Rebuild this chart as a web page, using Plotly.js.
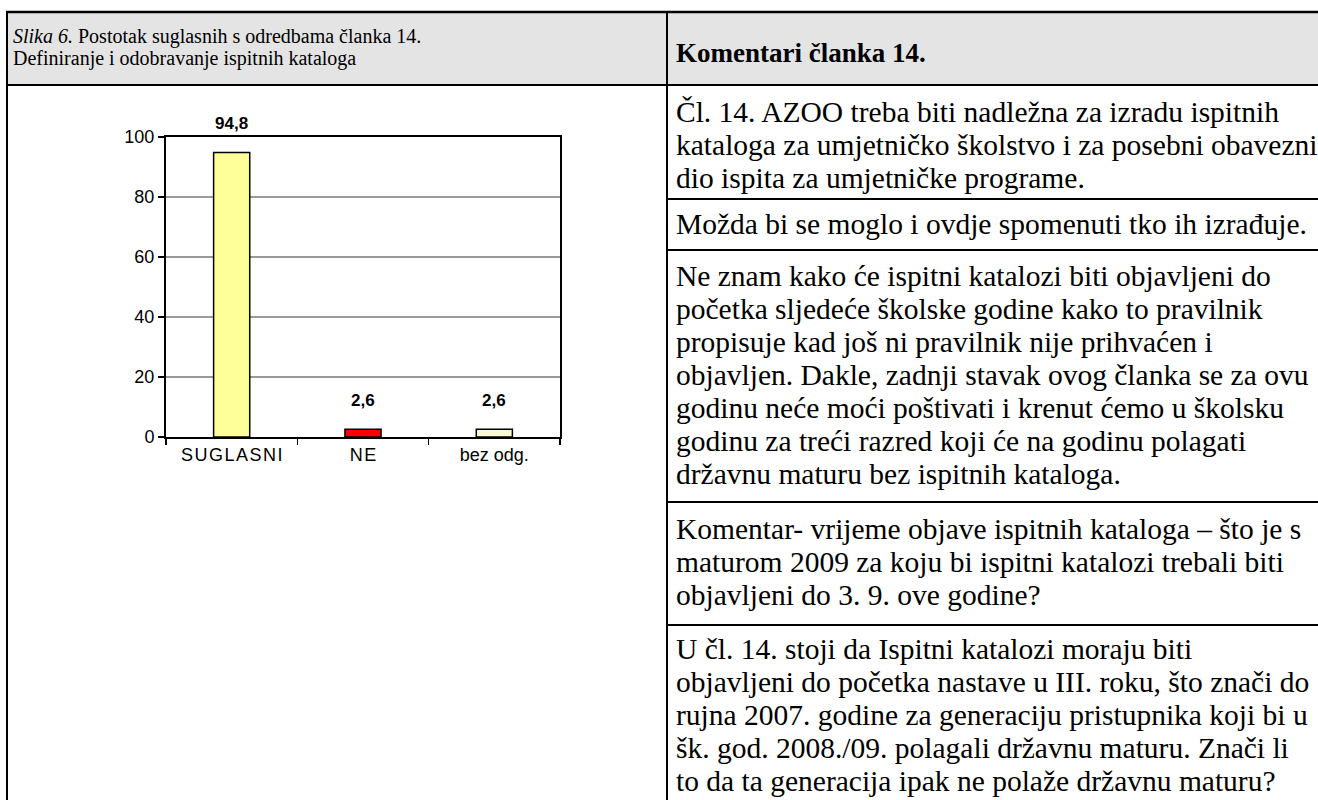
<!DOCTYPE html>
<html>
<head>
<meta charset="utf-8">
<script src="https://cdn.plot.ly/plotly-3.0.1.min.js"></script>
<style>html,body{margin:0;padding:0;background:#fff;}#chart{width:1318px;height:800px;}</style>
</head>
<body>
<div id="chart"></div>
<script>
// ---- data ----
const categories = ["S\u200AU\u200AG\u200AL\u200AA\u200AS\u200AN\u200AI", "N\u200AE", "bez odg."];
const values = [94.8, 2.6, 2.6];
const barColors = ["#FFFF99", "#FF0000", "#FAFAD2"];
const yTicks = [0, 20, 40, 60, 80, 100];

const headerLeftLine1 = "<i>Slika 6.</i> Postotak suglasnih s odredbama članka 14.";
const headerLeftLine2 = "Definiranje i odobravanje ispitnih kataloga";
const headerRight = "<b>Komentari članka 14.</b>";

const comment1 = [
  "Čl. 14. AZOO treba biti nadležna za izradu ispitnih",
  "kataloga za umjetničko školstvo i za posebni obavezni",
  "dio ispita za umjetničke programe."
];
const comment2 = [
  "Možda bi se moglo i ovdje spomenuti tko ih izrađuje."
];
const comment3 = [
  "Ne znam kako će ispitni katalozi biti objavljeni do",
  "početka sljedeće školske godine kako to pravilnik",
  "propisuje kad još ni pravilnik nije prihvaćen i",
  "objavljen. Dakle, zadnji stavak ovog članka se za ovu",
  "godinu neće moći poštivati i krenut ćemo u školsku",
  "godinu za treći razred koji će na godinu polagati",
  "državnu maturu bez ispitnih kataloga."
];
const comment4 = [
  "Komentar- vrijeme objave ispitnih kataloga – što je s",
  "maturom 2009 za koju bi ispitni katalozi trebali biti",
  "objavljeni do 3. 9. ove godine?"
];
const comment5 = [
  "U čl. 14. stoji da Ispitni katalozi moraju biti",
  "objavljeni do početka nastave u III. roku, što znači do",
  "rujna 2007. godine za generaciju pristupnika koji bi u",
  "šk. god. 2008./09. polagali državnu maturu. Znači li",
  "to da ta generacija ipak ne polaže državnu maturu?"
];

// ---- layout helpers (pixel -> paper) ----
const W = 1318, H = 800;
const px = x => x / W;
const py = y => 1 - y / H;

const SERIF = "Liberation Serif, Times New Roman, serif";
const SANS = "Liberation Sans, Arial, sans-serif";

const shapes = [];
const annotations = [];

// header fill
shapes.push({type: "rect", xref: "paper", yref: "paper", x0: px(7), x1: px(1318), y0: py(12), y1: py(85),
  fillcolor: "#E4E4E4", line: {width: 0}, layer: "below"});
function hline(y, x0, x1, w) {
  shapes.push({type: "line", xref: "paper", yref: "paper", x0: px(x0), x1: px(x1), y0: py(y), y1: py(y),
    line: {color: "#000", width: w || 2}});
}
function vline(x, y0, y1, w) {
  shapes.push({type: "line", xref: "paper", yref: "paper", x0: px(x), x1: px(x), y0: py(y0), y1: py(y1),
    line: {color: "#000", width: w || 2}});
}
hline(12, 6, 1318, 2.5);
hline(85, 6, 1318, 2);
vline(7, 11, 800, 2);
vline(667, 11, 800, 2);
hline(199, 667, 1318, 2);
hline(250, 667, 1318, 2);
hline(502, 667, 1318, 2);
hline(625, 667, 1318, 2);

function textLine(t, x, y, size, font) {
  annotations.push({xref: "paper", yref: "paper", x: px(x), y: py(y), xanchor: "left", yanchor: "middle",
    text: t, showarrow: false, align: "left", font: {family: font || SERIF, size: size, color: "#000"}});
}
textLine(headerLeftLine1, 11, 36, 20);
textLine(headerLeftLine2, 11, 59, 20);
textLine(headerRight, 674, 53, 27);

function block(lines, y0) {
  lines.forEach((l, i) => textLine(l, 674, y0 + i * 33, 29.5));
}
block(comment1, 112);
block(comment2, 224);
block(comment3, 276);
block(comment4, 529);
block(comment5, 649);

// data labels above bars (positioned via data coordinates)
categories.forEach((c, i) => {
  annotations.push({xref: "x", yref: "y", x: c, y: values[i], yshift: 29, showarrow: false,
    text: "<b>" + values[i].toFixed(1).replace(".", ",") + "</b>",
    font: {family: "Liberation Sans Narrow, Arial Narrow, " + SANS, size: 17, color: "#000"}});
});

const trace = {
  type: "bar",
  x: categories,
  y: values,
  marker: {color: barColors, line: {color: "#000", width: 1.5}},
  width: 0.275,
  hoverinfo: "x+y",
  cliponaxis: false
};

const layout = {
  width: W, height: H,
  margin: {l: 0, r: 0, t: 0, b: 0},
  paper_bgcolor: "#fff",
  plot_bgcolor: "#fff",
  showlegend: false,
  separators: ",.",
  xaxis: {
    domain: [px(166), px(560)],
    type: "category",
    showline: true, linecolor: "#000", linewidth: 2, mirror: true,
    ticks: "outside", tickson: "boundaries", ticklen: 6, tickwidth: 1.5, tickcolor: "#000",
    tickfont: {family: SANS, size: 18, color: "#000"},
    showgrid: false, zeroline: false, fixedrange: true
  },
  yaxis: {
    domain: [py(437), py(137)],
    range: [0, 100],
    tickvals: yTicks,
    ticks: "outside", ticklen: 6, tickwidth: 1.5, tickcolor: "#000",
    showline: true, linecolor: "#000", linewidth: 2, mirror: true,
    showgrid: true, gridcolor: "#999", gridwidth: 1.5,
    zeroline: false,
    tickfont: {family: SANS, size: 18, color: "#000"},
    fixedrange: true
  },
  shapes: shapes,
  annotations: annotations
};

Plotly.newPlot("chart", [trace], layout, {displayModeBar: false, staticPlot: true});
</script>
</body>
</html>
